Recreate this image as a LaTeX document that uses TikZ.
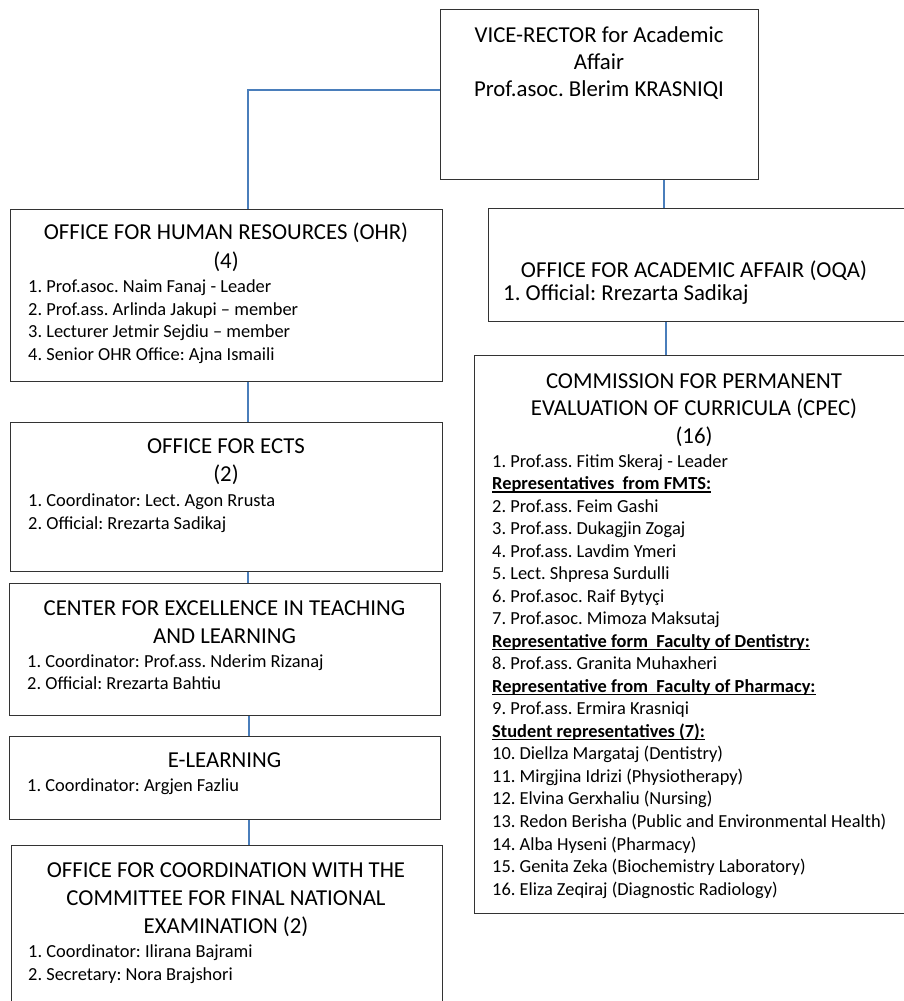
\documentclass[tikz,border=0pt]{standalone}
\usepackage{fontspec}
\setmainfont{Carlito}
\frenchspacing
\definecolor{boxgray}{HTML}{333333}
\definecolor{connblue}{HTML}{4A7EBB}
% bold heading with a solid underline
\newcommand\hdr[1]{\textbf{\setbox0\hbox{#1}\rlap{\rule[-3pt]{\wd0}{1.3pt}}\box0}}
\begin{document}
\begin{tikzpicture}[x=1pt,y=-1pt,
  box/.style={draw=boxgray, line width=1.3pt, inner sep=0pt, anchor=north west},
  conn/.style={draw=connblue, line width=1.6pt},
  ttl/.style={anchor=base, inner sep=0pt, font=\fontsize{22.8}{27}\selectfont},
  itm/.style={anchor=base west, inner sep=0pt, font=\fontsize{18.4}{22}\selectfont}]
\useasboundingbox (0,0) rectangle (904,1001);

% boxes
\node[box, minimum width=318pt, minimum height=170pt] (vr) at (440,9) {};
\node[box, minimum width=432pt, minimum height=172pt] (ohr) at (10,209) {};
\node[box, minimum width=432pt, minimum height=149pt] (ects) at (10,422) {};
\node[box, minimum width=431pt, minimum height=132pt] (cetl) at (9,583) {};
\node[box, minimum width=431pt, minimum height=83pt] (elearn) at (9,736) {};
\node[box, minimum width=431pt, minimum height=165pt] (coord) at (11,845) {};
\node[box, minimum width=422pt, minimum height=113pt] (oqa) at (488,208) {};
\node[box, minimum width=440pt, minimum height=558pt] (cpec) at (474,355) {};

% connectors
\draw[conn] ([yshift=4.5pt]vr.west) -| ([xshift=21.5pt]ohr.north);
\draw[conn] ([xshift=64.5pt]vr.south) -- ([xshift=64.5pt]vr.south |- oqa.north);
\draw[conn] ([xshift=-33.5pt]oqa.south) -- ([xshift=-33.5pt]oqa.south |- cpec.north);
\draw[conn] ([xshift=21.5pt]ohr.south) -- ([xshift=21.5pt]ohr.south |- ects.north);
\draw[conn] ([xshift=21.5pt]ects.south) -- ([xshift=21.5pt]ects.south |- cetl.north);
\draw[conn] ([xshift=24pt]cetl.south) -- ([xshift=24pt]cetl.south |- elearn.north);
\draw[conn] ([xshift=24pt]elearn.south) -- ([xshift=24pt]elearn.south |- coord.north);

% vice-rector
\node[ttl] (vr-1) at (599,42) {VICE-RECTOR for Academic};
\node[ttl] (vr-2) at (599,69) {Affair};
\node[ttl] (vr-3) at (599,96) {Prof.asoc. Blerim KRASNIQI};

% human resources
\node[ttl] (ohr-t1) at (226,239) {OFFICE FOR HUMAN RESOURCES (OHR)};
\node[ttl] (ohr-t2) at (226,268) {(4)};
\node[itm] (ohr-1) at (28,292.3) {1. Prof.asoc. Naim Fanaj - Leader};
\node[itm] (ohr-2) at (28,315) {2. Prof.ass. Arlinda Jakupi – member};
\node[itm] (ohr-3) at (28,337.7) {3. Lecturer Jetmir Sejdiu – member};
\node[itm] (ohr-4) at (28,360.4) {4. Senior OHR Office: Ajna Ismaili};

% ECTS
\node[ttl] (ects-t1) at (226,453) {OFFICE FOR ECTS};
\node[ttl] (ects-t2) at (226,481) {(2)};
\node[itm] (ects-1) at (28,506) {1. Coordinator: Lect. Agon Rrusta};
\node[itm] (ects-2) at (28,529) {2. Official: Rrezarta Sadikaj};

% excellence in teaching
\node[ttl] (cetl-t1) at (224.5,615) {CENTER FOR EXCELLENCE IN TEACHING};
\node[ttl] (cetl-t2) at (224.5,643) {AND LEARNING};
\node[itm] (cetl-1) at (27,667) {1. Coordinator: Prof.ass. Nderim Rizanaj};
\node[itm] (cetl-2) at (27,689) {2. Official: Rrezarta Bahtiu};

% e-learning
\node[ttl] (el-t1) at (224.5,767) {E-LEARNING};
\node[itm] (el-1) at (27,791) {1. Coordinator: Argjen Fazliu};

% national examination
\node[ttl] (co-t1) at (226,877) {OFFICE FOR COORDINATION WITH THE};
\node[ttl] (co-t2) at (226,905) {COMMITTEE FOR FINAL NATIONAL};
\node[ttl] (co-t3) at (226,933) {EXAMINATION (2)};
\node[itm] (co-1) at (28,957) {1. Coordinator: Ilirana Bajrami};
\node[itm] (co-2) at (28,980) {2. Secretary: Nora Brajshori};

% academic affair
\node[ttl] (oqa-t1) at (694,277) {OFFICE FOR ACADEMIC AFFAIR (OQA)};
\node[ttl, anchor=base west] (oqa-1) at (503,300) {1. Official: Rrezarta Sadikaj};

% curricula commission
\node[ttl] (cpec-t1) at (694,388) {COMMISSION FOR PERMANENT};
\node[ttl] (cpec-t2) at (694,415) {EVALUATION OF CURRICULA (CPEC)};
\node[ttl] (cpec-t3) at (694,443) {(16)};
\foreach \t [count=\i from 0] in {
  {1. Prof.ass. Fitim Skeraj - Leader},
  {\hdr{Representatives\ \ from FMTS:}},
  {2. Prof.ass. Feim Gashi},
  {3. Prof.ass. Dukagjin Zogaj},
  {4. Prof.ass. Lavdim Ymeri},
  {5. Lect. Shpresa Surdulli},
  {6. Prof.asoc. Raif Bytyçi},
  {7. Prof.asoc. Mimoza Maksutaj},
  {\hdr{Representative form\ \ Faculty of Dentistry:}},
  {8. Prof.ass. Granita Muhaxheri},
  {\hdr{Representative from\ \ Faculty of Pharmacy:}},
  {9. Prof.ass. Ermira Krasniqi},
  {\hdr{Student representatives (7):}},
  {10. Diellza Margataj (Dentistry)},
  {11. Mirgjina Idrizi (Physiotherapy)},
  {12. Elvina Gerxhaliu (Nursing)},
  {13. Redon Berisha (Public and Environmental Health)},
  {14. Alba Hyseni (Pharmacy)},
  {15. Genita Zeka (Biochemistry Laboratory)},
  {16. Eliza Zeqiraj (Diagnostic Radiology)}}
  \node[itm] (cpec-\i) at (492,{467+22.53*\i}) {\t};
\end{tikzpicture}
\end{document}
